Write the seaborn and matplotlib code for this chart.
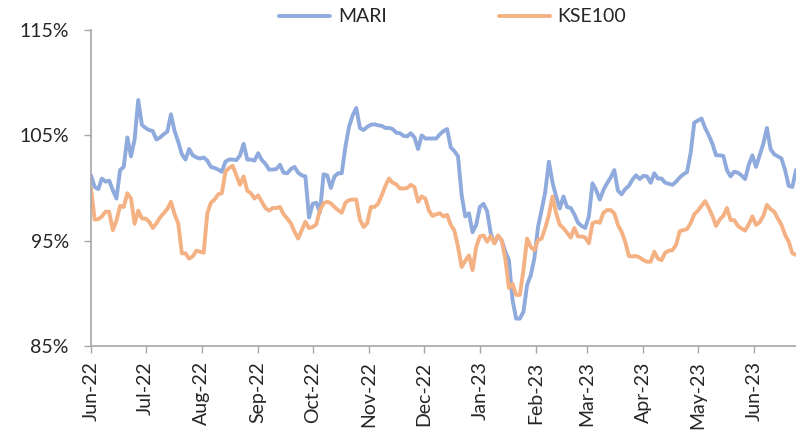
import pandas as pd
import matplotlib
matplotlib.use("Agg")
import matplotlib.pyplot as plt
import matplotlib.dates as mdates
from matplotlib.lines import Line2D
import seaborn as sns

# values, one point every 2 days from 1 Jun 2022
start_date = "2022-06-01"

mari = [
    101.2, 100.1, 99.9, 100.9, 100.6, 100.7, 99.8, 99.0, 101.7, 102.0,
    104.8, 103.0, 104.6, 108.35, 106.0, 105.7, 105.5, 105.4, 104.6, 104.8,
    105.1, 105.35, 107.0, 105.4, 104.4, 103.2, 102.7, 103.7, 103.1, 102.9,
    102.8, 102.9, 102.6, 102.0, 101.9, 101.75, 101.55, 102.5, 102.7, 102.7,
    102.65, 103.1, 104.2, 102.7, 102.7, 102.6, 103.3, 102.65, 102.3, 101.75,
    101.75, 101.8, 102.2, 101.45, 101.4, 101.8, 102.0, 101.45, 101.2, 101.1,
    97.2, 98.5, 98.6, 97.7, 101.3, 101.2, 100.0, 101.1, 101.4, 101.4,
    103.9, 105.8, 106.9, 107.6, 105.7, 105.5, 105.8, 106.0, 106.05, 105.95,
    105.9, 105.7, 105.7, 105.6, 105.25, 105.2, 104.95, 104.9, 105.2, 104.8,
    103.7, 105.0, 104.7, 104.7, 104.7, 104.7, 105.1, 105.4, 105.6, 103.85,
    103.5, 103.0, 99.3, 97.3, 97.6, 95.8, 96.5, 98.2, 98.5, 97.8,
    95.7, 94.75, 95.4, 95.05, 93.95, 93.15, 89.35, 87.6, 87.6, 88.25,
    90.8, 91.7, 93.3, 96.3, 97.9, 99.65, 102.5, 100.5, 99.2, 98.05,
    99.2, 98.2, 98.1, 97.5, 96.7, 96.4, 96.2, 97.3, 100.45, 99.8,
    98.9, 99.8, 100.45, 101.0, 101.7, 99.75, 99.4, 99.9, 100.2, 100.8,
    101.2, 100.85, 101.15, 101.1, 100.5, 101.4, 100.9, 100.9, 100.5, 100.4,
    100.3, 100.6, 101.0, 101.3, 101.5, 103.3, 106.2, 106.4, 106.6, 105.7,
    105.0, 104.2, 103.1, 103.1, 103.05, 101.7, 101.1, 101.55, 101.45, 101.2,
    100.85, 102.2, 103.1, 102.0, 103.1, 104.2, 105.7, 103.7, 103.2, 103.0,
    102.8, 101.7, 100.2, 100.1, 101.7,
]

kse100 = [
    100.0, 97.0, 97.05, 97.3, 97.75, 97.75, 96.0, 96.9, 98.3, 98.2,
    99.5, 99.0, 96.6, 97.85, 97.1, 97.1, 96.8, 96.2, 96.65, 97.2,
    97.6, 98.0, 98.7, 97.5, 96.65, 93.8, 93.8, 93.3, 93.5, 94.05,
    93.95, 93.85, 97.6, 98.6, 98.9, 99.4, 99.5, 101.55, 101.9, 102.1,
    101.2, 100.3, 101.1, 99.75, 99.5, 99.0, 99.3, 98.7, 98.1, 97.85,
    98.1, 98.1, 98.2, 97.5, 97.1, 96.65, 95.85, 95.2, 96.0, 96.8,
    96.2, 96.3, 96.55, 97.9, 98.55, 98.7, 98.55, 98.2, 97.9, 97.65,
    98.6, 98.85, 98.9, 98.9, 97.0, 96.3, 96.65, 98.2, 98.2, 98.5,
    99.3, 100.2, 100.9, 100.5, 100.35, 99.95, 99.95, 100.0, 100.3, 100.1,
    98.7, 99.2, 99.0, 97.85, 97.35, 97.5, 97.6, 97.3, 97.45, 96.5,
    95.95, 94.4, 92.5, 93.1, 93.6, 92.2, 94.4, 95.4, 95.5, 94.9,
    95.45, 94.75, 95.5, 95.05, 93.3, 90.5, 90.9, 89.85, 89.85, 92.2,
    95.2, 94.4, 94.1, 95.05, 95.2, 96.2, 97.45, 99.2, 97.6, 96.5,
    96.2, 95.75, 95.3, 96.2, 95.4, 95.4, 95.3, 94.75, 96.65, 96.8,
    96.7, 97.65, 97.9, 97.9, 97.6, 96.5, 95.85, 94.9, 93.55, 93.5,
    93.55, 93.4, 93.15, 93.0, 93.0, 93.95, 93.3, 93.15, 93.85, 94.05,
    94.1, 94.6, 95.9, 96.0, 96.1, 96.65, 97.5, 97.85, 98.3, 98.75,
    98.1, 97.35, 96.4, 97.0, 97.35, 98.1, 96.95, 96.95, 96.4, 96.15,
    95.95, 96.55, 97.3, 96.5, 96.75, 97.35, 98.4, 98.0, 97.75, 97.1,
    96.5, 95.55, 94.9, 93.8, 93.65,
]

y_ticks = [85, 95, 105, 115]
colors = {"MARI": "#8FAADC", "KSE100": "#F4B183"}
grey = "#A6A6A6"

dates = pd.date_range(start_date, periods=len(mari), freq="2D")
df = pd.DataFrame({"date": dates, "MARI": mari, "KSE100": kse100})
long_df = df.melt(id_vars="date", var_name="series", value_name="value")

sns.set_style("ticks")
plt.rcParams["font.family"] = ["Lato", "DejaVu Sans"]

fig = plt.figure(figsize=(7.96, 4.34), dpi=100)
ax = fig.add_axes([91 / 796, 88 / 434, 705 / 796, 316 / 434])

sns.lineplot(data=long_df, x="date", y="value", hue="series",
             palette=colors, linewidth=2.8, ax=ax, legend=False)

ax.set_xlim(dates[0], dates[-1])
ax.set_ylim(85, 115)
ax.set_yticks(y_ticks)
ax.set_yticklabels([f"{t}%" for t in y_ticks])
ax.xaxis.set_major_locator(mdates.MonthLocator())
ax.xaxis.set_major_formatter(mdates.DateFormatter("%b-%y"))
ax.set_xlabel("")
ax.set_ylabel("")

ax.tick_params(axis="x", rotation=90, length=5, width=1, color=grey,
               labelsize=14, pad=6)
ax.tick_params(axis="y", length=5, width=1, color=grey, labelsize=14, pad=11)

sns.despine(ax=ax)
for side in ["left", "bottom"]:
    ax.spines[side].set_color(grey)
    ax.spines[side].set_linewidth(1.2)

handles = [Line2D([], [], color=colors[k], linewidth=2.8) for k in colors]
fig.legend(handles, list(colors), loc="center", bbox_to_anchor=(0.569, 0.961),
           ncol=2, frameon=False, fontsize=14, handlelength=2.6,
           handletextpad=0.4, columnspacing=5.8)

fig.savefig("out.png", dpi=100)
